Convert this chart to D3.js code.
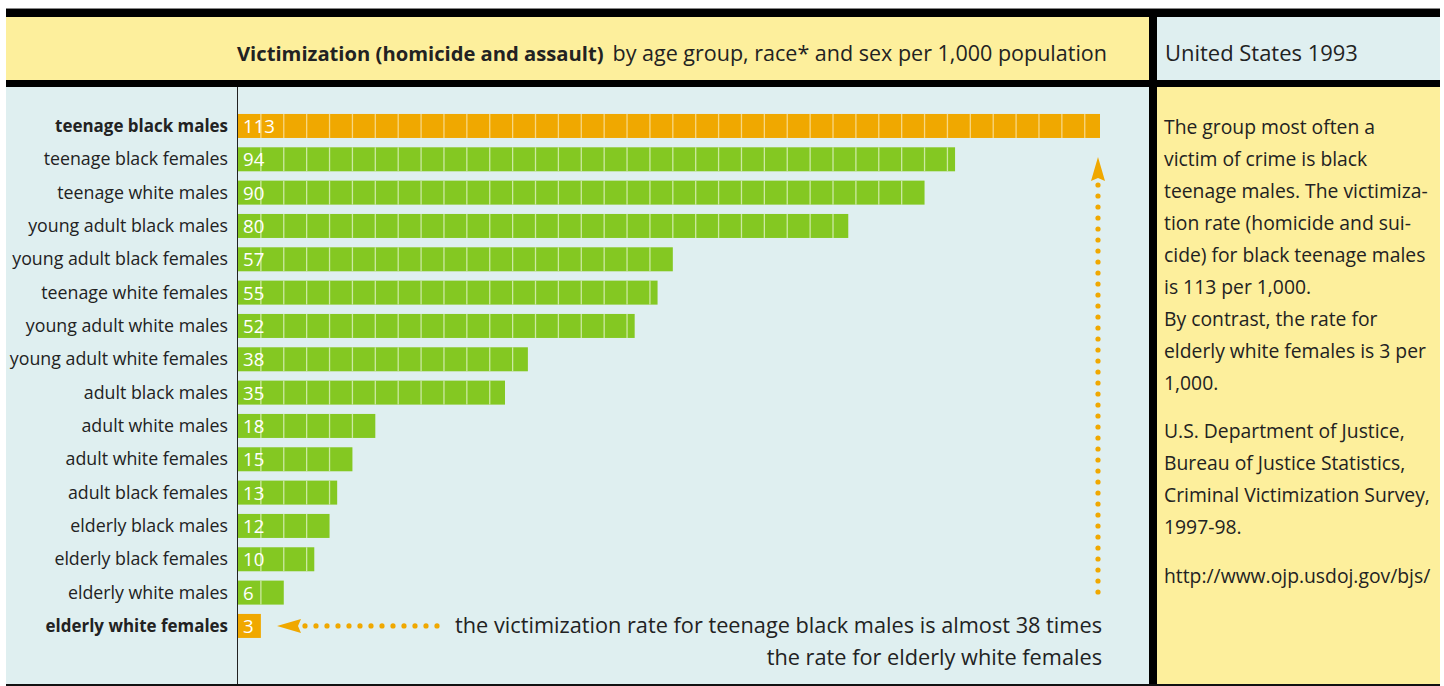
<!DOCTYPE html>
<html><head><meta charset="utf-8">
<script src="https://cdn.jsdelivr.net/npm/d3@7"></script>
<style>
html,body{margin:0;padding:0;background:#fff;}
svg{display:block;font-family:"Open Sans","Noto Sans",sans-serif;}
</style></head>
<body><svg id="c" width="1444" height="686"></svg>
<script>
const categories = ["teenage black males","teenage black females","teenage white males","young adult black males","young adult black females","teenage white females","young adult white males","young adult white females","adult black males","adult white males","adult white females","adult black females","elderly black males","elderly black females","elderly white males","elderly white females"];
const values = [113,94,90,80,57,55,52,38,35,18,15,13,12,10,6,3];
const highlighted = ["teenage black males","elderly white females"];
const titleBold = "Victimization (homicide and assault)";
const titleRest = "by age group, race* and sex per 1,000 population";
const sideTitle = "United States 1993";
const sideLines = ["The group most often a","victim of crime is black","teenage males. The victimiza-","tion rate (homicide and sui-","cide) for black teenage males","is 113 per 1,000.","By contrast, the rate for","elderly white females is 3 per","1,000."];
const sourceLines = ["U.S. Department of Justice,","Bureau of Justice Statistics,","Criminal Victimization Survey,","1997-98."];
const urlLine = "http://www.ojp.usdoj.gov/bjs/";
const noteLines = ["the victimization rate for teenage black males is almost 38 times","the rate for elderly white females"];
const segmentUnit = 3;

const svg = d3.select("#c");
const C = {blue:"#dfeff0", yellow:"#fdef9c", black:"#000", orange:"#f0a800", green:"#84c822", text:"#222"};

function fitSize(node, target){
  const s0 = parseFloat(node.getAttribute("font-size"));
  const w = node.getComputedTextLength();
  return s0 * target / w;
}
function probeSize(text, target, weight){
  const p = svg.append("text").attr("font-size",20).attr("font-weight",weight||"normal").text(text);
  const s = fitSize(p.node(), target); p.remove(); return s;
}

// panels
svg.append("rect").attr("x",6).attr("y",8).attr("width",1434).attr("height",1).attr("fill","#888");
svg.append("rect").attr("x",6).attr("y",9).attr("width",1434).attr("height",8).attr("fill",C.black);
svg.append("rect").attr("x",6).attr("y",17).attr("width",1143).attr("height",63).attr("fill",C.yellow);
svg.append("rect").attr("x",1157).attr("y",17).attr("width",283).attr("height",63).attr("fill",C.blue);
svg.append("rect").attr("x",6).attr("y",80).attr("width",1434).attr("height",7).attr("fill",C.black);
svg.append("rect").attr("x",6).attr("y",87).attr("width",1143).attr("height",597).attr("fill",C.blue);
svg.append("rect").attr("x",1157).attr("y",87).attr("width",283).attr("height",597).attr("fill",C.yellow);
svg.append("rect").attr("x",1149).attr("y",9).attr("width",8).attr("height",676).attr("fill",C.black);
svg.append("rect").attr("x",6).attr("y",684).attr("width",1434).attr("height",2).attr("fill","#111");

// header
svg.append("text").attr("x",237).attr("y",61).attr("font-size",probeSize(titleBold,367,"bold"))
  .attr("font-weight","bold").attr("fill",C.text).text(titleBold);
svg.append("text").attr("x",1107).attr("y",61).attr("text-anchor","end").attr("font-size",probeSize(titleRest,495))
  .attr("fill",C.text).text(titleRest);
svg.append("text").attr("x",1165).attr("y",61).attr("font-size",probeSize(sideTitle,193)).attr("fill",C.text).text(sideTitle);

// scales
const x = d3.scaleLinear().domain([0,113]).range([238,1100]);
const y = d3.scaleBand().domain(categories).range([109.3,642.6]).paddingInner(0.28).paddingOuter(0.14);

svg.append("line").attr("x1",237.5).attr("x2",237.5).attr("y1",87).attr("y2",684).attr("stroke","#222").attr("stroke-width",1);

const labelSize = probeSize("young adult black females", 216);
const boldSize = probeSize("teenage black males", 173, "bold");
const valueSize = probeSize("113", 32);

const data = categories.map((c,i)=>({c, v:values[i], hi: highlighted.includes(c)}));
const bars = svg.append("g").selectAll("g.bar").data(data).join("g").attr("class","bar");
bars.append("rect").attr("x",x(0)).attr("y",d=>y(d.c)).attr("width",d=>x(d.v)-x(0)).attr("height",y.bandwidth())
  .attr("fill",d=>d.hi?C.orange:C.green);
bars.each(function(d){
  const ticks = d3.range(segmentUnit, d.v, segmentUnit);
  d3.select(this).selectAll("line").data(ticks).join("line")
    .attr("x1",t=>x(t)).attr("x2",t=>x(t)).attr("y1",y(d.c)).attr("y2",y(d.c)+y.bandwidth())
    .attr("stroke",d.hi?"#f8dc90":"#d4ecb0").attr("stroke-opacity",0.9).attr("stroke-width",1.3);
});
bars.append("text").attr("x",x(0)+5).attr("y",d=>y(d.c)+y.bandwidth()/2+7).attr("font-size",valueSize)
  .attr("fill","#fff").text(d=>d.v);
bars.append("text").attr("x",228).attr("y",d=>y(d.c)+y.bandwidth()/2+6).attr("text-anchor","end")
  .attr("font-size",d=>d.hi?boldSize:labelSize).attr("fill",C.text).attr("font-weight",d=>d.hi?"bold":"normal").text(d=>d.c);

// vertical arrow
const ax = 1098;
svg.append("path").attr("d",`M${ax},157 L${ax+7},181 L${ax},178 L${ax-7},181 Z`).attr("fill",C.orange);
svg.append("g").selectAll("circle").data(d3.range(185,594,11)).join("circle")
  .attr("cx",ax).attr("cy",d=>d).attr("r",2.6).attr("fill",C.orange);
// horizontal arrow
const ay = y("elderly white females")+y.bandwidth()/2;
svg.append("path").attr("d",`M277,${ay} L301,${ay-7} L298,${ay} L301,${ay+7} Z`).attr("fill",C.orange);
svg.append("g").selectAll("circle").data(d3.range(305,440,11)).join("circle")
  .attr("cx",d=>d).attr("cy",ay).attr("r",2.6).attr("fill",C.orange);

// note
const noteSize = probeSize(noteLines[0], 647);
svg.append("g").selectAll("text").data(noteLines).join("text")
  .attr("x",1102).attr("y",(d,i)=>633+i*32).attr("text-anchor","end").attr("font-size",noteSize).attr("fill",C.text).text(d=>d);

// side text
const sideSize = probeSize(sourceLines[2], 266);
const side = svg.append("g").attr("font-size",sideSize).attr("fill",C.text);
side.selectAll("text.s").data(sideLines).join("text").attr("class","s").attr("x",1164).attr("y",(d,i)=>134+i*32).text(d=>d);
side.selectAll("text.r").data(sourceLines).join("text").attr("class","r").attr("x",1164).attr("y",(d,i)=>438+i*32).text(d=>d);
side.append("text").attr("x",1164).attr("y",583).text(urlLine);
</script></body></html>
